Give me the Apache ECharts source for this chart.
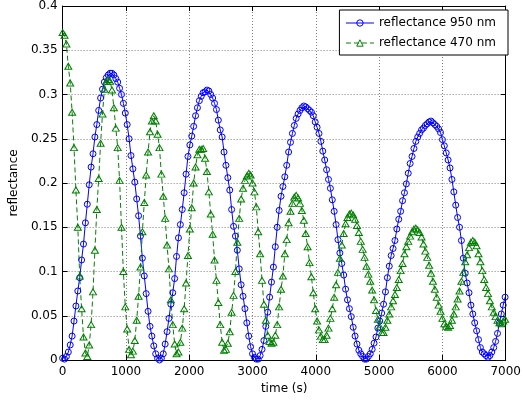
<!DOCTYPE html>
<html>
<head>
<meta charset="utf-8">
<script src="https://cdn.jsdelivr.net/npm/echarts@6/dist/echarts.min.js"></script>
<style>
html,body{margin:0;padding:0;background:#fff;}
#chart{width:524px;height:402px;}
</style>
</head>
<body>
<div id="chart"></div>
<script>
// time samples (s)
const times = [
0,30,60,90,120,150,180,210,240,270,
300,330,360,390,420,450,480,510,540,570,
600,630,660,690,720,750,780,810,840,870,
900,930,960,990,1020,1050,1080,1110,1140,1170,
1200,1230,1260,1290,1320,1350,1380,1410,1440,1470,
1500,1530,1560,1590,1620,1650,1680,1710,1740,1770,
1800,1830,1860,1890,1920,1950,1980,2010,2040,2070,
2100,2130,2160,2190,2220,2250,2280,2310,2340,2370,
2400,2430,2460,2490,2520,2550,2580,2610,2640,2670,
2700,2730,2760,2790,2820,2850,2880,2910,2940,2970,
3000,3030,3060,3090,3120,3150,3180,3210,3240,3270,
3300,3330,3360,3390,3420,3450,3480,3510,3540,3570,
3600,3630,3660,3690,3720,3750,3780,3810,3840,3870,
3900,3930,3960,3990,4020,4050,4080,4110,4140,4170,
4200,4230,4260,4290,4320,4350,4380,4410,4440,4470,
4500,4530,4560,4590,4620,4650,4680,4710,4740,4770,
4800,4830,4860,4890,4920,4950,4980,5010,5040,5070,
5100,5130,5160,5190,5220,5250,5280,5310,5340,5370,
5400,5430,5460,5490,5520,5550,5580,5610,5640,5670,
5700,5730,5760,5790,5820,5850,5880,5910,5940,5970,
6000,6030,6060,6090,6120,6150,6180,6210,6240,6270,
6300,6330,6360,6390,6420,6450,6480,6510,6540,6570,
6600,6630,6660,6690,6720,6750,6780,6810,6840,6870,
6900,6930,6960,6990
];

// reflectance 950 nm
const refl950 = [
0.002,0.001,0.004,0.009,0.017,0.027,0.044,0.061,0.078,0.093,
0.113,0.131,0.155,0.176,0.198,0.218,0.233,0.252,0.266,0.282,
0.296,0.306,0.314,0.319,0.322,0.324,0.324,0.322,0.318,0.314,
0.307,0.300,0.290,0.279,0.266,0.250,0.231,0.216,0.201,0.182,
0.163,0.140,0.115,0.095,0.075,0.055,0.038,0.027,0.016,0.007,
0.002,0.000,0.002,0.007,0.018,0.032,0.047,0.063,0.076,0.092,
0.117,0.138,0.153,0.170,0.189,0.210,0.230,0.243,0.253,0.264,
0.276,0.285,0.293,0.298,0.302,0.303,0.305,0.304,0.300,0.296,
0.290,0.283,0.271,0.260,0.252,0.235,0.220,0.206,0.192,0.170,
0.151,0.140,0.124,0.103,0.085,0.072,0.058,0.042,0.027,0.015,
0.007,0.003,0.001,0.001,0.005,0.012,0.022,0.038,0.054,0.071,
0.088,0.105,0.128,0.150,0.169,0.185,0.196,0.207,0.220,0.235,
0.246,0.256,0.265,0.273,0.278,0.282,0.285,0.287,0.286,0.284,
0.282,0.280,0.276,0.269,0.263,0.256,0.247,0.236,0.226,0.215,
0.204,0.194,0.181,0.168,0.153,0.136,0.121,0.109,0.096,0.080,
0.068,0.058,0.049,0.037,0.027,0.018,0.011,0.007,0.004,0.001,
0.001,0.004,0.007,0.012,0.019,0.026,0.036,0.044,0.053,0.063,
0.077,0.093,0.106,0.118,0.126,0.135,0.148,0.159,0.168,0.180,
0.189,0.199,0.211,0.222,0.230,0.239,0.247,0.252,0.256,0.260,
0.262,0.265,0.267,0.269,0.270,0.268,0.266,0.264,0.261,0.257,
0.249,0.242,0.234,0.226,0.217,0.204,0.190,0.175,0.161,0.150,
0.135,0.115,0.098,0.087,0.076,0.062,0.052,0.042,0.033,0.023,
0.014,0.009,0.007,0.005,0.003,0.005,0.009,0.014,0.021,0.030,
0.042,0.052,0.062,0.071
];

// reflectance 470 nm
const refl470 = [
0.370,0.367,0.357,0.332,0.313,0.280,0.240,0.192,0.150,0.095,
0.058,0.026,0.008,0.004,0.017,0.040,0.077,0.124,0.170,0.205,
0.245,0.278,0.306,0.315,0.317,0.315,0.305,0.285,0.262,0.240,
0.203,0.150,0.100,0.060,0.035,0.012,0.006,0.010,0.022,0.045,
0.072,0.105,0.145,0.178,0.209,0.235,0.258,0.270,0.276,0.270,
0.255,0.240,0.210,0.185,0.160,0.130,0.103,0.068,0.040,0.018,
0.007,0.009,0.020,0.036,0.058,0.087,0.118,0.148,0.172,0.200,
0.218,0.232,0.238,0.238,0.239,0.228,0.213,0.190,0.165,0.142,
0.113,0.090,0.065,0.040,0.020,0.011,0.012,0.019,0.032,0.054,
0.073,0.100,0.133,0.160,0.182,0.194,0.203,0.208,0.211,0.209,
0.200,0.190,0.173,0.145,0.120,0.090,0.063,0.045,0.028,0.021,
0.019,0.020,0.028,0.040,0.060,0.080,0.095,0.120,0.136,0.155,
0.168,0.177,0.184,0.186,0.183,0.177,0.169,0.158,0.143,0.128,
0.110,0.094,0.076,0.058,0.044,0.034,0.027,0.023,0.023,0.028,
0.036,0.047,0.058,0.071,0.085,0.099,0.115,0.130,0.143,0.154,
0.161,0.165,0.166,0.164,0.159,0.152,0.144,0.134,0.125,0.116,
0.106,0.097,0.089,0.079,0.068,0.056,0.046,0.038,0.031,0.031,
0.037,0.045,0.052,0.060,0.067,0.074,0.082,0.091,0.101,0.109,
0.120,0.128,0.134,0.140,0.145,0.148,0.149,0.147,0.144,0.139,
0.131,0.123,0.116,0.107,0.098,0.089,0.080,0.071,0.062,0.055,
0.047,0.041,0.038,0.037,0.039,0.045,0.052,0.060,0.069,0.078,
0.089,0.099,0.111,0.119,0.127,0.133,0.135,0.133,0.129,0.120,
0.111,0.101,0.091,0.082,0.075,0.067,0.060,0.054,0.049,0.045,
0.042,0.041,0.044,0.046
];

const seriesNames = ['reflectance 950 nm', 'reflectance 470 nm'];
const xTicks = [0, 1000, 2000, 3000, 4000, 5000, 6000, 7000];
const yTicks = [0, 0.05, 0.1, 0.15, 0.2, 0.25, 0.3, 0.35, 0.4];

const FONT = 'DejaVu Sans';
const FS = 12;

const chart = echarts.init(document.getElementById('chart'), null, {renderer: 'canvas'});

const pairs = (ys) => times.map((t, i) => [t, ys[i]]);

const baseX = {
  type: 'value', min: xTicks[0], max: xTicks[xTicks.length - 1], interval: 1000,
  axisLine: {show: true, onZero: false, lineStyle: {color: '#000', width: 1}},
  axisTick: {show: true, inside: true, length: 5, lineStyle: {color: '#000'}},
};
const baseY = {
  type: 'value', min: yTicks[0], max: yTicks[yTicks.length - 1], interval: 0.05,
  axisLine: {show: true, onZero: false, lineStyle: {color: '#000', width: 1}},
  axisTick: {show: true, inside: true, length: 5, lineStyle: {color: '#000'}},
};

chart.setOption({
  animation: false,
  backgroundColor: '#fff',
  grid: {left: 57, right: 14, top: 4, bottom: 42, containLabel: false},
  legend: {
    orient: 'vertical', right: 16, top: 10,
    itemWidth: 28, itemHeight: 8, itemGap: 8,
    padding: [7, 12, 6, 6],
    borderColor: '#000', borderWidth: 1, borderRadius: 0, backgroundColor: '#fff',
    textStyle: {fontFamily: FONT, fontSize: FS, color: '#000'},
    lineStyle: {width: 1},
    itemStyle: {borderWidth: 1},
    data: seriesNames
  },
  xAxis: [
    Object.assign({}, baseX, {
      position: 'bottom',
      axisLabel: {color: '#000', fontFamily: FONT, fontSize: FS, margin: 6,
        formatter: (v) => String(v)},
      splitLine: {show: true, lineStyle: {color: '#808080', type: [1, 2], width: 1}},
      name: 'time (s)', nameLocation: 'middle', nameGap: 20,
      nameTextStyle: {fontFamily: FONT, fontSize: FS, color: '#000'}
    }),
    Object.assign({}, baseX, {
      position: 'top',
      axisLabel: {show: false},
      splitLine: {show: false}
    })
  ],
  yAxis: [
    Object.assign({}, baseY, {
      position: 'left',
      axisLabel: {color: '#000', fontFamily: FONT, fontSize: FS, margin: 5,
        formatter: (v) => String(+v.toFixed(2))},
      splitLine: {show: true, lineStyle: {color: '#808080', type: [1, 2], width: 1}},
      name: 'reflectance', nameLocation: 'middle', nameGap: 37, nameRotate: 90,
      nameTextStyle: {fontFamily: FONT, fontSize: FS, color: '#000'}
    }),
    Object.assign({}, baseY, {
      position: 'right',
      axisLabel: {show: false},
      splitLine: {show: false}
    })
  ],
  series: [
    {
      name: seriesNames[0], type: 'line', xAxisIndex: 0, yAxisIndex: 0,
      data: pairs(refl950),
      symbol: 'circle', symbolSize: 6, showAllSymbol: true,
      itemStyle: {color: 'rgba(255,255,255,0)', borderColor: '#0000ff', borderWidth: 1},
      lineStyle: {color: '#0000ff', width: 1},
      emphasis: {disabled: true}
    },
    {
      name: seriesNames[1], type: 'line', xAxisIndex: 0, yAxisIndex: 0,
      data: pairs(refl470),
      symbol: 'triangle', symbolSize: [7, 6], showAllSymbol: true,
      itemStyle: {color: 'rgba(255,255,255,0)', borderColor: '#008000', borderWidth: 1},
      lineStyle: {color: '#008000', width: 1, type: [5, 3]},
      emphasis: {disabled: true}
    }
  ]
});
</script>
</body>
</html>
